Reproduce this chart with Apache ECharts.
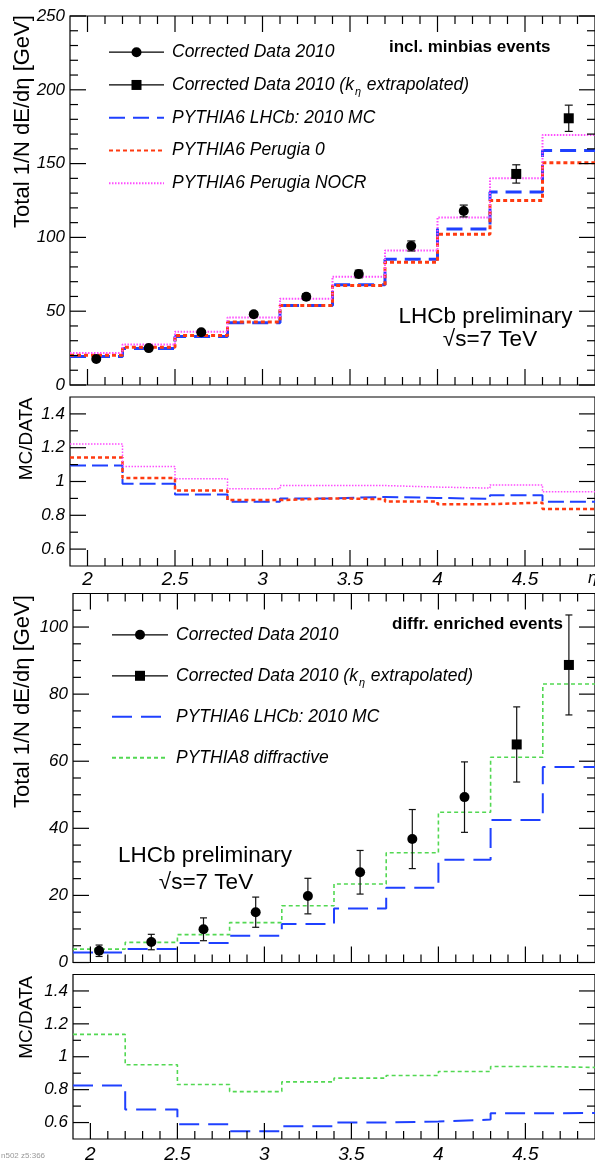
<!DOCTYPE html>
<html><head><meta charset="utf-8">
<script src="https://cdn.jsdelivr.net/npm/echarts@6/dist/echarts.min.js"></script>
<style>html,body{margin:0;padding:0;background:#fff}#c{width:595px;height:1164px}</style>
</head><body><div id="c"></div>
<script>
// ---------- data ----------
const binEdges   = [1.9,2.2,2.5,2.8,3.1,3.4,3.7,4.0,4.3,4.6,4.9];
const binCenters = [2.05,2.35,2.65,2.95,3.25,3.55,3.85,4.15,4.45,4.75];
const nCircle = 8; // first 8 points: circles, last 2: squares (k_eta extrapolated)

// inclusive minimum-bias
const mbData  = [17.6,25.0,35.7,47.9,59.8,75.2,94.2,117.9,143.0,180.7];
const mbErr   = [0.8,1.0,1.2,1.6,2.0,2.6,3.4,4.0,6.2,8.9];
const mbLHCb  = [19.3,24.7,32.8,42.2,53.8,68.0,85.2,105.7,130.7,158.8];
const mbPer0  = [20.1,25.6,33.6,42.6,53.8,67.4,83.1,102.1,125.0,150.6];
const mbNOCR  = [21.6,27.4,36.1,45.8,58.4,73.4,91.1,113.5,140.0,169.4];
const mbRatioLHCb = [1.095,0.986,0.923,0.880,0.900,0.909,0.903,0.897,0.919,0.880];
const mbRatioPer0 = [1.142,1.020,0.947,0.890,0.900,0.896,0.881,0.866,0.875,0.838];
const mbRatioNOCR = [1.222,1.089,1.016,0.957,0.976,0.976,0.967,0.961,0.980,0.939];

// diffractive enriched
const dfData  = [3.5,6.1,9.9,15.0,19.8,26.9,36.8,49.3,65.0,88.7];
const dfErr   = [1.7,2.3,3.4,4.5,5.3,6.5,8.8,10.5,11.2,14.9];
const dfLHCb  = [3.0,4.0,5.8,8.0,11.5,16.1,22.3,30.6,42.5,58.3];
const dfP8    = [4.0,6.0,8.3,11.9,16.9,23.4,32.7,44.8,61.2,83.0];
const dfRatioLHCb = [0.825,0.680,0.589,0.547,0.577,0.601,0.606,0.618,0.656,0.658];
const dfRatioP8   = [1.136,0.951,0.831,0.788,0.847,0.870,0.886,0.910,0.941,0.935];

// ticks
const xMajor = [2,2.5,3,3.5,4,4.5];
const xMinor = [2.1,2.2,2.3,2.4,2.6,2.7,2.8,2.9,3.1,3.2,3.3,3.4,3.6,3.7,3.8,3.9,4.1,4.2,4.3,4.4,4.6,4.7,4.8];
const yMbMajor = [0,50,100,150,200,250];
const yMbMinor = [10,20,30,40,60,70,80,90,110,120,130,140,160,170,180,190,210,220,230,240];
const yRatioMajor = [0.6,0.8,1,1.2,1.4];
const yRatioMinor = [0.7,0.9,1.1,1.3];
const yDfMajor = [0,20,40,60,80,100];
const yDfMinor = [5,10,15,25,30,35,45,50,55,65,70,75,85,90,95,105];

const legendLabels = {
  mbData:'Corrected Data 2010', mbDataK:'Corrected Data 2010 (k{s|η} extrapolated)',
  mbLHCb:'PYTHIA6 LHCb: 2010 MC', mbPer0:'PYTHIA6 Perugia 0', mbNOCR:'PYTHIA6 Perugia NOCR',
  dfData:'Corrected Data 2010', dfDataK:'Corrected Data 2010 (k{s|η} extrapolated)',
  dfLHCb:'PYTHIA6 LHCb: 2010 MC', dfP8:'PYTHIA8 diffractive'
};

// ---------- styles / layout ----------
const FONT = '"Liberation Sans", Arial, Helvetica, sans-serif';
const BLUE = '#1f40ff', RED = '#ff3a10', MAG = '#ff4cff', GREEN = '#52d852';

const gridBoxes = [
  {left:70, top:16,    width:531, height:369},
  {left:70, top:397,   width:531, height:169},
  {left:73, top:593.5, width:533, height:369},
  {left:73, top:974.5, width:533, height:169}
];
const grids = gridBoxes.map(g => Object.assign({}, g, {show:true, borderColor:'#000', borderWidth:1.2}));

const xAxis = [], yAxis = [];
function addX(grid, labels, margin) {
  xAxis.push({type:'value', gridIndex:grid, min:1.9, max:4.9, splitLine:{show:false},
    axisLine:{show:false, onZero:false}, axisTick:{show:false},
    axisLabel:{show:labels, customValues:xMajor, margin:margin, fontSize:19,
      fontStyle:'italic', fontFamily:FONT, color:'#000'}});
  return xAxis.length - 1;
}
function addY(grid, min, max, major) {
  yAxis.push({type:'value', gridIndex:grid, min:min, max:max, splitLine:{show:false},
    axisLine:{show:false, onZero:false}, axisTick:{show:false},
    axisLabel:{show:true, customValues:major, margin:5, fontSize:17, fontStyle:'italic',
      fontFamily:FONT, color:'#000'}});
  return yAxis.length - 1;
}

const x0 = addX(0, false, 0), y0 = addY(0, 0, 250, yMbMajor);
const x1 = addX(1, true, 4),  y1 = addY(1, 0.5, 1.5, yRatioMajor);
const x2 = addX(2, false, 0), y2 = addY(2, 0, 110, yDfMajor);
const x3 = addX(3, true, 6),  y3 = addY(3, 0.5, 1.5, yRatioMajor);

// ---------- series builders ----------
function stepSeries(name, vals, xi, yi, color, width, dash, z) {
  return {name:name, type:'line', xAxisIndex:xi, yAxisIndex:yi, step:'end', symbol:'none',
    data: binEdges.map((e, i) => [e, vals[Math.min(i, vals.length - 1)]]),
    lineStyle:{color:color, width:width, type:dash, cap:'butt'}, itemStyle:{color:color},
    z:z, silent:true, animation:false};
}
function pointSeries(name, xs, ys, xi, yi, symbol, size) {
  return {name:name, type:'line', xAxisIndex:xi, yAxisIndex:yi, symbol:symbol, symbolSize:size,
    showSymbol:true, data: xs.map((x, i) => [x, ys[i]]),
    lineStyle:{width:0, color:'#000'}, itemStyle:{color:'#000'}, z:6, silent:true, animation:false};
}
function errSeries(xs, ys, es, xi, yi, cap) {
  return {type:'custom', xAxisIndex:xi, yAxisIndex:yi, z:5, silent:true, animation:false,
    data: xs.map((x, i) => [x, ys[i], es[i]]),
    renderItem: function (params, api) {
      const x = api.value(0), y = api.value(1), e = api.value(2);
      const pHi = api.coord([x, y + e]), pLo = api.coord([x, y - e]);
      const st = {stroke:'#111', lineWidth:1.2};
      return {type:'group', children:[
        {type:'line', shape:{x1:pHi[0], y1:pHi[1], x2:pLo[0], y2:pLo[1]}, style:st},
        {type:'line', shape:{x1:pHi[0]-cap, y1:pHi[1], x2:pHi[0]+cap, y2:pHi[1]}, style:st},
        {type:'line', shape:{x1:pLo[0]-cap, y1:pLo[1], x2:pLo[0]+cap, y2:pLo[1]}, style:st}
      ]};
    }};
}
// frame ticks: each item sits at the panel centre [xMid, yMid] and carries
// [tickValue, dim (0 = x tick, 1 = y tick), length, withTop]
function tickSeries(xi, yi, xMid, yMid, vals, dim, len, withTop) {
  return {type:'custom', xAxisIndex:xi, yAxisIndex:yi, z:5, silent:true, animation:false,
    data: vals.map(v => [xMid, yMid, v, dim, len, withTop ? 1 : 0]),
    renderItem: function (params, api) {
      const cs = params.coordSys;
      const v = api.value(2), d = api.value(3), L = api.value(4), top = api.value(5);
      const st = {stroke:'#000', lineWidth:1.2};
      const kids = [];
      if (d === 0) {
        const px = api.coord([v, yMid])[0];
        const yb = cs.y + cs.height;
        kids.push({type:'line', shape:{x1:px, y1:yb, x2:px, y2:yb - L}, style:st});
        if (top) kids.push({type:'line', shape:{x1:px, y1:cs.y, x2:px, y2:cs.y + L}, style:st});
      } else {
        const py = api.coord([xMid, v])[1];
        kids.push({type:'line', shape:{x1:cs.x, y1:py, x2:cs.x + L, y2:py}, style:st});
        kids.push({type:'line', shape:{x1:cs.x + cs.width, y1:py, x2:cs.x + cs.width - L, y2:py}, style:st});
      }
      return {type:'group', children:kids};
    }};
}
function panelTicks(xi, yi, yMid, yMaj, yMin, withTop) {
  return [
    tickSeries(xi, yi, 3.4, yMid, xMajor, 0, 16, withTop),
    tickSeries(xi, yi, 3.4, yMid, xMinor, 0, 8, withTop),
    tickSeries(xi, yi, 3.4, yMid, yMaj, 1, 16, withTop),
    tickSeries(xi, yi, 3.4, yMid, yMin, 1, 8, withTop)
  ];
}

const series = [
  stepSeries('mbLHCb', mbLHCb, x0, y0, BLUE, 3, [16,8], 2),
  stepSeries('mbPer0', mbPer0, x0, y0, RED, 3, [4,3], 3),
  stepSeries('mbNOCR', mbNOCR, x0, y0, MAG, 2, [1.5,1.5], 4),
  errSeries(binCenters, mbData, mbErr, x0, y0, 4),
  ...panelTicks(x0, y0, 125, yMbMajor, yMbMinor, true),
  pointSeries('mbData', binCenters.slice(0, nCircle), mbData.slice(0, nCircle), x0, y0, 'circle', 10),
  pointSeries('mbDataK', binCenters.slice(nCircle), mbData.slice(nCircle), x0, y0, 'rect', 10),
  stepSeries('r1LHCb', mbRatioLHCb, x1, y1, BLUE, 2, [16,6], 2),
  stepSeries('r1Per0', mbRatioPer0, x1, y1, RED, 2.5, [4,3], 3),
  stepSeries('r1NOCR', mbRatioNOCR, x1, y1, MAG, 1.5, [1.5,1.5], 4),
  ...panelTicks(x1, y1, 1.0, yRatioMajor, yRatioMinor, false),
  stepSeries('dfLHCb', dfLHCb, x2, y2, BLUE, 2, [20,9], 2),
  stepSeries('dfP8', dfP8, x2, y2, GREEN, 1.6, [4,3], 3),
  errSeries(binCenters, dfData, dfErr, x2, y2, 3.5),
  ...panelTicks(x2, y2, 55, yDfMajor, yDfMinor, true),
  pointSeries('dfData', binCenters.slice(0, nCircle), dfData.slice(0, nCircle), x2, y2, 'circle', 10),
  pointSeries('dfDataK', binCenters.slice(nCircle), dfData.slice(nCircle), x2, y2, 'rect', 10),
  stepSeries('r2LHCb', dfRatioLHCb, x3, y3, BLUE, 2, [20,9], 2),
  stepSeries('r2P8', dfRatioP8, x3, y3, GREEN, 1.6, [4,3], 3),
  ...panelTicks(x3, y3, 1.0, yRatioMajor, yRatioMinor, false)
];

const dataLine = {color:'#000', width:1.2, type:'solid', opacity:1};
const noSym = {opacity:0};
const legendText = {fontSize:17.5, fontStyle:'italic', fontFamily:FONT, color:'#000', lineHeight:25,
  padding:[0,0,0,3],
  rich:{s:{fontSize:11, fontStyle:'italic', fontFamily:FONT, color:'#000', lineHeight:11, padding:[14,1,0,1]}}};
const legend = [
  {left:103, top:34.7, orient:'vertical', itemWidth:55, itemHeight:12.5, itemGap:7.75,
   selectedMode:false, formatter:n => legendLabels[n], textStyle:legendText,
   data:[{name:'mbData', lineStyle:dataLine}, {name:'mbDataK', lineStyle:dataLine},
         {name:'mbLHCb', itemStyle:noSym}, {name:'mbPer0', itemStyle:noSym}, {name:'mbNOCR', itemStyle:noSym}]},
  {left:106, top:617.3, orient:'vertical', itemWidth:56, itemHeight:12.5, itemGap:16,
   selectedMode:false, formatter:n => legendLabels[n], textStyle:legendText,
   data:[{name:'dfData', lineStyle:dataLine}, {name:'dfDataK', lineStyle:dataLine},
         {name:'dfLHCb', itemStyle:noSym}, {name:'dfP8', itemStyle:noSym}]}
];

function txt(x, y, text, size, opts) {
  return {type:'text', x:x, y:y, rotation:(opts && opts.rot) || 0, silent:true,
    style:Object.assign({text:text, fontSize:size, fontFamily:FONT, fill:'#000',
      align:'center', verticalAlign:'middle'}, (opts && opts.style) || {})};
}
const graphic = [
  txt(22.5, 121.5, 'Total 1/N dE/dη [GeV]', 22, {rot:Math.PI/2}),
  txt(22.5, 701.5, 'Total 1/N dE/dη [GeV]', 22, {rot:Math.PI/2}),
  txt(27, 439, 'MC/DATA', 19, {rot:Math.PI/2}),
  txt(27, 1017.5, 'MC/DATA', 19, {rot:Math.PI/2}),
  txt(389, 47, 'incl. minbias events', 17, {style:{align:'left', fontWeight:'bold'}}),
  txt(392, 624, 'diffr. enriched events', 17, {style:{align:'left', fontWeight:'bold'}}),
  txt(485.5, 316.5, 'LHCb preliminary', 22.5),
  txt(490, 340, '√s=7 TeV', 22.5),
  txt(205, 856, 'LHCb preliminary', 22.5),
  txt(206, 883, '√s=7 TeV', 22.5),
  txt(588, 578, 'η', 17, {style:{align:'left', fontStyle:'italic'}})
];

const chart = echarts.init(document.getElementById('c'), null, {renderer:'canvas'});
chart.setOption({animation:false, backgroundColor:'#fff', grid:grids, xAxis:xAxis, yAxis:yAxis,
  series:series, legend:legend, graphic:graphic});

// small diagnostic in the empty bottom-left corner
let info = '';
try {
  const list = chart.getZr().storage.getDisplayList(true);
  let c5 = 0;
  list.forEach(el => { if (el.z === 5) c5++; });
  info = 'n' + list.length + ' z5:' + c5;
} catch (e) { info = 'E:' + e.message.slice(0, 20); }
chart.setOption({graphic: graphic.concat([{type:'text', x:1, y:1152, silent:true,
  style:{text:info, fontSize:8, fontFamily:FONT, fill:'#999'}}])});
</script></body></html>
